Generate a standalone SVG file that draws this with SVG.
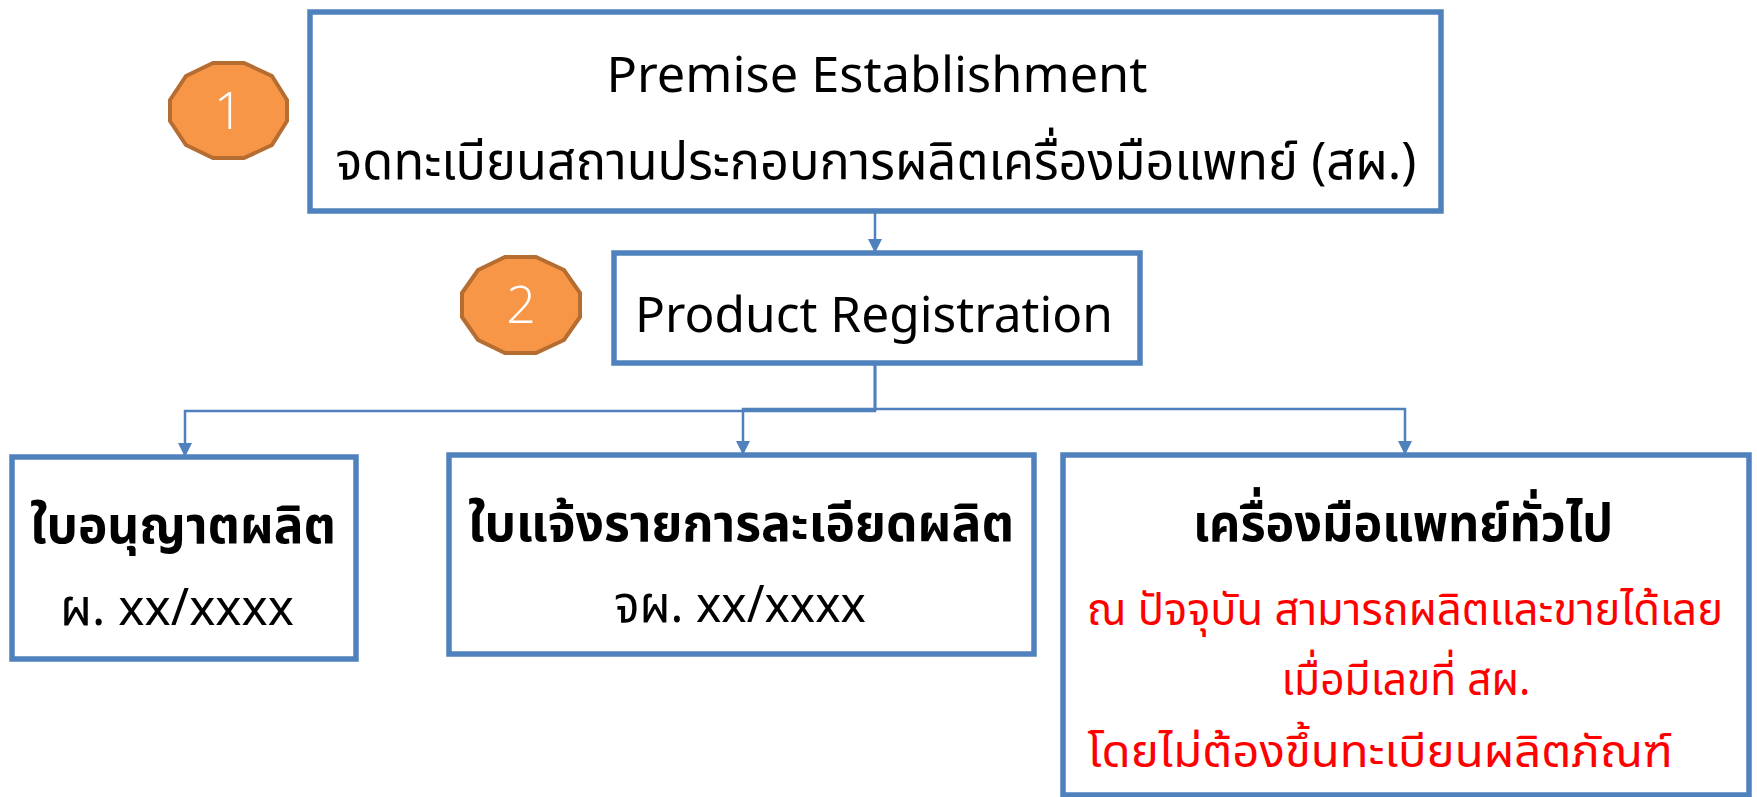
<svg xmlns="http://www.w3.org/2000/svg" width="1757" height="797" viewBox="0 0 1757 797">
<style>
.box{fill:#fff;stroke:#4F81BD;stroke-width:5.5}
.con{fill:none;stroke:#4F81BD;stroke-width:2.5}
.badge{fill:#F79646;stroke:#B66D31;stroke-width:4}
.num{font-family:"Open Sans","Noto Sans",sans-serif;font-size:52px;fill:#fff;text-anchor:middle;font-weight:300}
.t{font-family:"Noto Sans","Noto Sans Thai","DejaVu Sans",sans-serif;fill:#000;text-anchor:middle}
.big{font-size:50px}
.th{font-size:51px}
.b{font-weight:bold;font-size:52px}
.red{fill:#FF0000;font-size:45px}
</style>
<defs>
<marker id="ah" markerWidth="14" markerHeight="14" refX="12" refY="6" orient="auto" markerUnits="userSpaceOnUse" viewBox="0 0 12 12">
<path d="M0,0 L12,6 L0,12 Z" fill="#4F81BD"/>
</marker>
</defs>
<g id="connectors">
<path class="con" d="M875,211 V253" marker-end="url(#ah)"/>
<path class="con" d="M875,363 V411 H185 V457" marker-end="url(#ah)"/>
<path class="con" d="M875,363 V409 H743 V455" marker-end="url(#ah)"/>
<path class="con" d="M875,363 V409 H1405 V455" marker-end="url(#ah)"/>
</g>
<g id="node-premise">
<rect class="box" x="310" y="12" width="1131" height="199"/>
<text class="t big" x="877" y="92" textLength="541" lengthAdjust="spacingAndGlyphs">Premise Establishment</text>
<text class="t th" x="876" y="179" textLength="1081" lengthAdjust="spacingAndGlyphs">จดทะเบียนสถานประกอบการผลิตเครื่องมือแพทย์ (สผ.)</text>
</g>
<g id="node-badge1">
<polygon class="badge" points="213,63 244,63 272,76 287,100 287,121 272,145 244,158 213,158 186,145 170,121 170,100 186,76"/>
<text class="num" x="228.5" y="129">1</text>
</g>
<g id="node-product">
<rect class="box" x="614" y="253" width="526" height="110"/>
<text class="t big" x="874" y="332" textLength="478" lengthAdjust="spacingAndGlyphs">Product Registration</text>
</g>
<g id="node-badge2">
<polygon class="badge" points="505,257 536,257 564,270 580,293 580,317 564,340 536,353 505,353 478,340 462,317 462,293 478,270"/>
<text class="num" x="521" y="323">2</text>
</g>
<g id="node-license">
<rect class="box" x="12" y="457" width="344" height="202"/>
<text class="t b" x="183" y="543" textLength="306" lengthAdjust="spacingAndGlyphs">ใบอนุญาตผลิต</text>
<text class="t th" x="177" y="625" textLength="234" lengthAdjust="spacingAndGlyphs">ผ. xx/xxxx</text>
</g>
<g id="node-notify">
<rect class="box" x="449" y="455" width="585" height="199"/>
<text class="t b" x="741" y="541" textLength="546" lengthAdjust="spacingAndGlyphs">ใบแจ้งรายการละเอียดผลิต</text>
<text class="t th" x="740" y="622" textLength="252" lengthAdjust="spacingAndGlyphs">จผ. xx/xxxx</text>
</g>
<g id="node-general">
<rect class="box" x="1063" y="455" width="686" height="340"/>
<text class="t b" x="1403" y="541" textLength="420" lengthAdjust="spacingAndGlyphs">เครื่องมือแพทย์ทั่วไป</text>
<text class="t red" x="1405" y="625" textLength="636" lengthAdjust="spacingAndGlyphs">ณ ปัจจุบัน สามารถผลิตและขายได้เลย</text>
<text class="t red" x="1406" y="695" textLength="249" lengthAdjust="spacingAndGlyphs">เมื่อมีเลขที่ สผ.</text>
<text class="t red" x="1380" y="767" textLength="585" lengthAdjust="spacingAndGlyphs">โดยไม่ต้องขึ้นทะเบียนผลิตภัณฑ์</text>
</g>
</svg>
